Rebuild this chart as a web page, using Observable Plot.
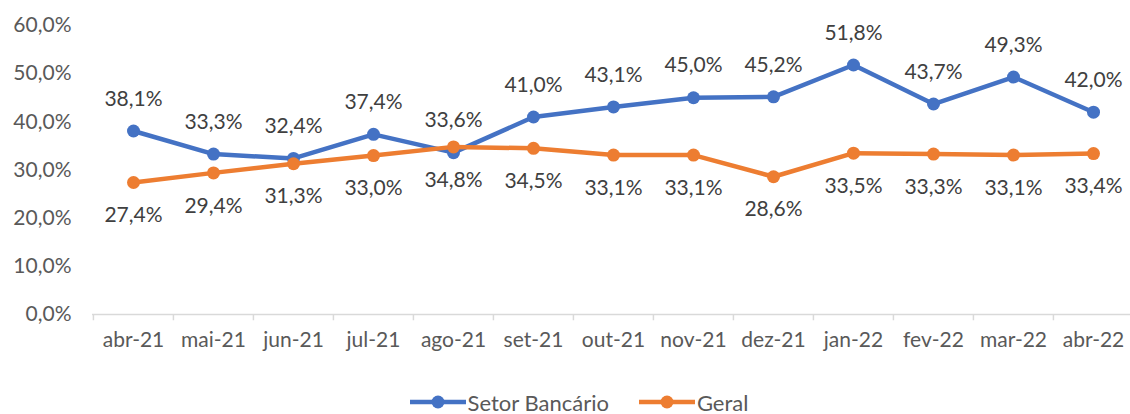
<!DOCTYPE html>
<html><head><meta charset="utf-8">
<script src="https://cdn.jsdelivr.net/npm/d3@7"></script>
<script src="https://cdn.jsdelivr.net/npm/@observablehq/plot@0.6"></script>
<style>
body{margin:0;background:#fff;font-family:Lato,"Open Sans",sans-serif;overflow:hidden;}
#legend{display:flex;justify-content:center;align-items:center;gap:30px;height:24px;font-size:22px;color:#595959;margin-left:28px;}
#legend span{display:flex;align-items:center;gap:2px;}
</style></head><body>
<div id="chart"></div>
<div id="legend"></div>
<script>
const months = ["abr-21","mai-21","jun-21","jul-21","ago-21","set-21","out-21","nov-21","dez-21","jan-22","fev-22","mar-22","abr-22"];
const setorBancario = [38.1,33.3,32.4,37.4,33.6,41.0,43.1,45.0,45.2,51.8,43.7,49.3,42.0];
const geral = [27.4,29.4,31.3,33.0,34.8,34.5,33.1,33.1,28.6,33.5,33.3,33.1,33.4];
const yTicks = [0,10,20,30,40,50,60];
const seriesNames = ["Setor Bancário","Geral"];
const colors = ["#4472C4","#ED7D31"];

const data = [];
months.forEach((m,i)=>{
  data.push({month:m, value:setorBancario[i], series:seriesNames[0]});
  data.push({month:m, value:geral[i], series:seriesNames[1]});
});
const fmt = v => v.toFixed(1).replace(".",",") + "%";
const W = 1130, ML = 92, MR = -4;
const step = (W-ML-MR)/months.length;

const chart = Plot.plot({
  width: W, height: 390,
  marginLeft: ML, marginRight: MR, marginTop: 25, marginBottom: 76,
  style: {fontFamily: "Lato, 'Open Sans', sans-serif", fontSize: "21px", color: "#595959", background: "#fff", overflow: "visible"},
  x: {type: "point", domain: months, padding: 0.5, label: null},
  y: {domain: [0, 60], label: null},
  color: {domain: seriesNames, range: colors},
  marks: [
    Plot.axisY(yTicks, {tickSize: 0, tickPadding: 21, tickFormat: fmt, fontSize: 21, fill: "#595959"}),
    Plot.axisX({tickSize: 0, tickPadding: 18, fontSize: 21, fill: "#595959"}),
    Plot.ruleY([0], {stroke: "#d9d9d9", strokeWidth: 1.5}),
    Plot.ruleX(months, {x: d => d, dx: -step/2, y1: 0, y2: -1.3, stroke: "#d9d9d9", strokeWidth: 1.5}),
    Plot.line(data, {x: "month", y: "value", z: "series", stroke: "series", strokeWidth: 4.5, curve: "linear"}),
    Plot.dot(data, {x: "month", y: "value", fill: "series", r: 6.5}),
    Plot.text(data.filter(d=>d.series===seriesNames[0]), {x: "month", y: "value", text: d=>fmt(d.value), dy: -32, fill: "#404040", fontSize: 21}),
    Plot.text(data.filter(d=>d.series===seriesNames[1]), {x: "month", y: "value", text: d=>fmt(d.value), dy: 33, fill: "#404040", fontSize: 21})
  ]
});
document.getElementById("chart").appendChild(chart);

const legend = document.getElementById("legend");
seriesNames.forEach((n,i)=>{
  const s = document.createElement("span");
  s.innerHTML = `<svg width="56" height="16"><line x1="0" y1="8" x2="56" y2="8" stroke="${colors[i]}" stroke-width="4.5"/><circle cx="28" cy="8" r="6.5" fill="${colors[i]}"/></svg>${n}`;
  legend.appendChild(s);
});
</script>
</body></html>
